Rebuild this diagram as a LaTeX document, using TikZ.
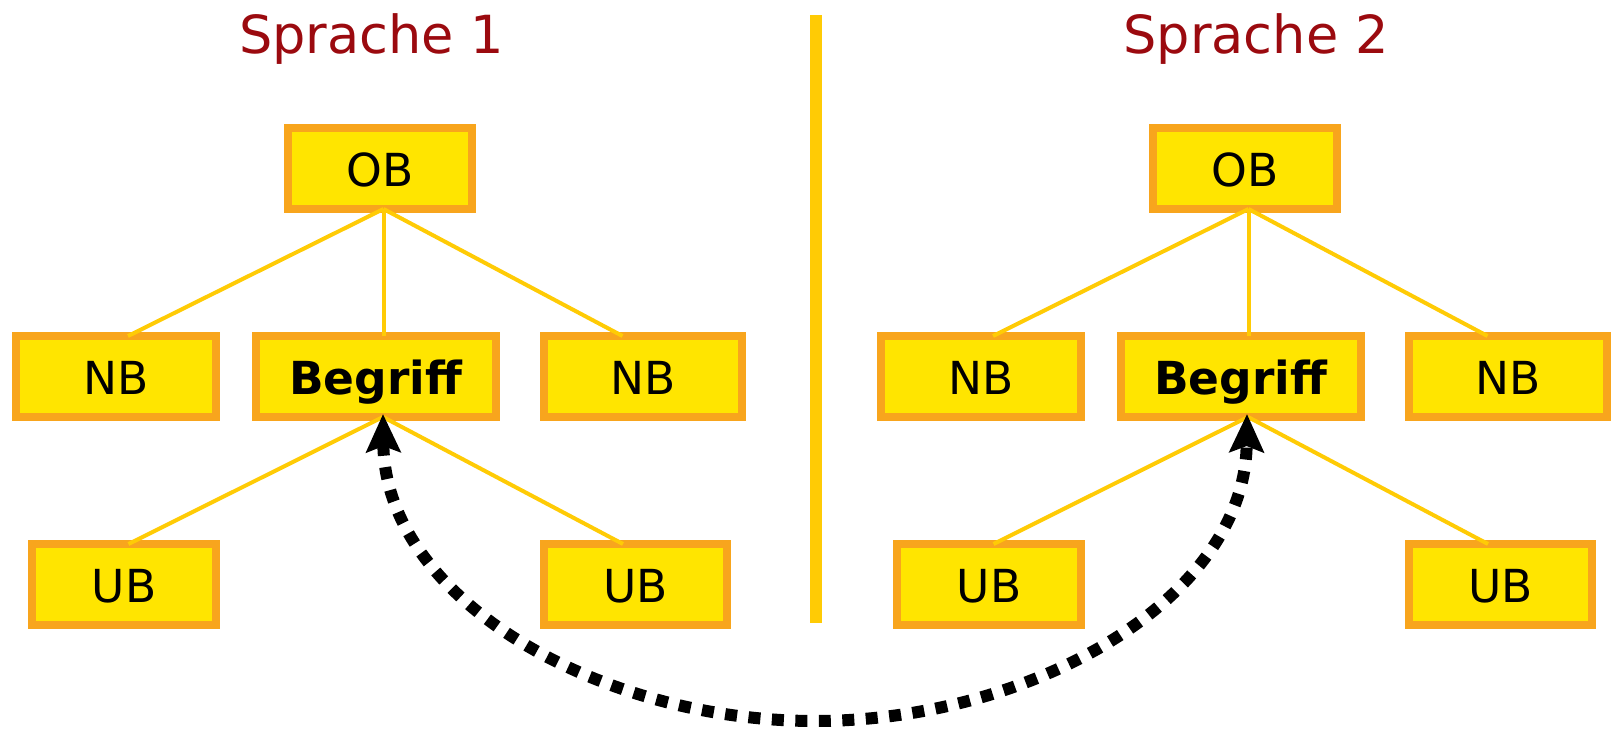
\documentclass[tikz,border=0pt]{standalone}
\usepackage{fontspec}
\setmainfont{DejaVu Sans}
\usetikzlibrary{arrows.meta}
\definecolor{boxfill}{RGB}{255,229,0}
\definecolor{boxline}{RGB}{248,165,29}
\definecolor{linkcol}{RGB}{255,203,5}
\definecolor{titlecol}{RGB}{155,10,15}
\begin{document}
\begin{tikzpicture}[x=1pt,y=-1pt,
  cbox/.style={draw=boxline, fill=boxfill, line width=8pt, inner sep=0pt, outer sep=0pt,
    minimum height=81pt, text height=35pt, text depth=0pt, font=\fontsize{45.5}{52}\selectfont},
  link/.style={draw=linkcol, line width=4pt},
  divider/.style={draw=linkcol, line width=12pt},
  title/.style={text=titlecol, font=\fontsize{52.5}{60}\selectfont, anchor=base, inner sep=0pt},
  dotarrow/.style={line width=12pt, dash pattern=on 12pt off 11.5pt,
    {Stealth[length=38pt,width=34pt,inset=6pt]}-{Stealth[length=38pt,width=34pt,inset=6pt]}}]
\useasboundingbox (0,0) rectangle (1611,728);

% titles
\node[title] (t1) at (371.5,53) {Sprache 1};
\node[title] (t2) at (1256,53) {Sprache 2};

% divider
\coordinate (vt) at (816,15);
\coordinate (vb) at (816,623);
\draw[divider] (vt) -- (vb);

% left tree
\node[cbox, minimum width=184pt] (ob1) at (380,168.5) {OB};
\node[cbox, minimum width=200pt] (nba1) at (116,376.5) {NB};
\node[cbox, minimum width=240pt] (beg1) at (376,376.5) {\textbf{Begriff}};
\node[cbox, minimum width=198pt] (nbb1) at (643,376.5) {NB};
\node[cbox, minimum width=184pt] (uba1) at (124,584.5) {UB};
\node[cbox, minimum width=183pt] (ubb1) at (635.5,584.5) {UB};

% right tree
\node[cbox, minimum width=184pt] (ob2) at (1245,168.5) {OB};
\node[cbox, minimum width=200pt] (nba2) at (981,376.5) {NB};
\node[cbox, minimum width=240pt] (beg2) at (1241,376.5) {\textbf{Begriff}};
\node[cbox, minimum width=198pt] (nbb2) at (1508,376.5) {NB};
\node[cbox, minimum width=184pt] (uba2) at (989,584.5) {UB};
\node[cbox, minimum width=183pt] (ubb2) at (1500.5,584.5) {UB};

% connectors left
\draw[link] ([xshift=3.5pt]ob1.south) -- ([xshift=12pt]nba1.north);
\draw[link] ([xshift=3.5pt]ob1.south) -- ([xshift=7.5pt]beg1.north);
\draw[link] ([xshift=3.5pt]ob1.south) -- ([xshift=-20.5pt]nbb1.north);
\draw[link] ([xshift=7pt]beg1.south) -- ([xshift=4.5pt]uba1.north);
\draw[link] ([xshift=7pt]beg1.south) -- ([xshift=-12.5pt]ubb1.north);

% connectors right
\draw[link] ([xshift=3.5pt]ob2.south) -- ([xshift=12pt]nba2.north);
\draw[link] ([xshift=3.5pt]ob2.south) -- ([xshift=7.5pt]beg2.north);
\draw[link] ([xshift=3.5pt]ob2.south) -- ([xshift=-20.5pt]nbb2.north);
\draw[link] ([xshift=7pt]beg2.south) -- ([xshift=4.5pt]uba2.north);
\draw[link] ([xshift=7pt]beg2.south) -- ([xshift=-12.5pt]ubb2.north);

% dotted double arrow
\coordinate (a1) at ([shift={(7,-3)}]beg1.south);
\coordinate (a2) at ([shift={(6,-3)}]beg2.south);
\coordinate (bot) at (815,721);
\draw[dotarrow] (a1) .. controls (385,600) and (600,721) .. (bot)
  .. controls (1030,721) and (1245,600) .. (a2);
\end{tikzpicture}
\end{document}
